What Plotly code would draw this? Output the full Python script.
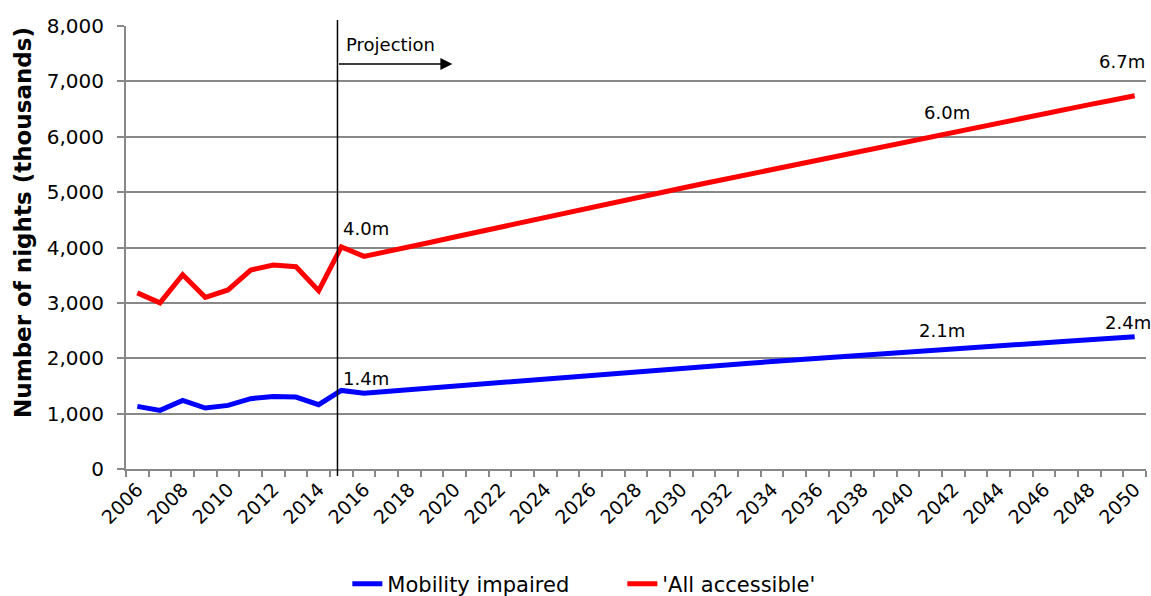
import plotly.graph_objects as go

years = list(range(2006, 2051))
mobility_impaired = [1131, 1059, 1239, 1101, 1149, 1270, 1311, 1300, 1162, 1419,
                     1370, 1403, 1436, 1469, 1502, 1535, 1568, 1601, 1634, 1667,
                     1700, 1730, 1760, 1790, 1820, 1850, 1880, 1910, 1940, 1970,
                     2000, 2030, 2060, 2090, 2120, 2147, 2174, 2201, 2228, 2255,
                     2282, 2309, 2336, 2363, 2390]
all_accessible = [3180, 3000, 3509, 3100, 3234, 3593, 3683, 3653, 3221, 4012,
                  3840, 3920, 4010, 4100, 4190, 4280, 4370, 4460, 4550, 4640,
                  4730, 4815, 4900, 4985, 5070, 5155, 5240, 5325, 5410, 5495,
                  5580, 5665, 5750, 5835, 5920, 6000, 6085, 6165, 6250, 6330,
                  6415, 6495, 6580, 6660, 6740]
tick_years = list(range(2006, 2051, 2))
y_ticks = list(range(0, 8001, 1000))

labels = [  # (text, x, y)
    ("4.0m", 2016.1, 4352),
    ("1.4m", 2016.1, 1643),
    ("6.0m", 2041.7, 6447),
    ("6.7m", 2049.45, 7350),
    ("2.1m", 2041.5, 2510),
    ("2.4m", 2049.7, 2637),
]

FONT = "DejaVu Sans"

fig = go.Figure()
fig.add_trace(go.Scatter(x=years, y=mobility_impaired, mode="lines",
                         name="Mobility impaired",
                         line=dict(color="#0000FF", width=5)))
fig.add_trace(go.Scatter(x=years, y=all_accessible, mode="lines",
                         name="'All accessible'",
                         line=dict(color="#FF0000", width=5)))

for t, x, y in labels:
    fig.add_annotation(x=x, y=y, text=t, showarrow=False,
                       font=dict(size=18, color="black", family=FONT))

# projection line
fig.add_shape(type="line", xref="x", yref="paper", x0=2014.83, x1=2014.83,
              y0=-0.016, y1=1.0135, line=dict(color="black", width=1.5))
fig.add_annotation(x=2019.9, y=7314, ax=2014.83, ay=7314,
                   xref="x", yref="y", axref="x", ayref="y",
                   showarrow=True, arrowhead=2, arrowsize=1.6, arrowwidth=1.5,
                   arrowcolor="black", text="")
fig.add_annotation(x=2015.1, y=7675, text="Projection", showarrow=False,
                   xanchor="left", yanchor="middle",
                   font=dict(size=18, color="black", family=FONT))

# y-axis title
fig.add_annotation(xref="paper", yref="paper", x=-0.101, y=0.5576,
                   text="<b>Number of nights (thousands)</b>", textangle=-90,
                   showarrow=False, xanchor="center", yanchor="middle",
                   font=dict(size=23, color="black", family=FONT))

fig.update_layout(
    width=1151, height=596,
    margin=dict(l=126, r=5, t=26, b=127, autoexpand=False),
    plot_bgcolor="white", paper_bgcolor="white",
    font=dict(family=FONT, color="black", size=19),
    showlegend=True,
    legend=dict(orientation="h", x=0.217, xanchor="left",
                y=-0.26, yanchor="middle", entrywidth=230,
                entrywidthmode="pixels",
                font=dict(size=21, family=FONT)),
    xaxis=dict(range=[2005.5, 2050.5], tickvals=tick_years,
               ticktext=[str(v) for v in tick_years], tickangle=-45,
               ticks="", showgrid=False, zeroline=False,
               showline=True, linecolor="#888888", linewidth=2,
               tickfont=dict(size=19, family=FONT),
               minor=dict(tickmode="linear", tick0=2005.5, dtick=1,
                          ticks="outside", ticklen=6, tickcolor="#888888",
                          tickwidth=2, showgrid=False)),
    yaxis=dict(range=[0, 8000], tickvals=y_ticks,
               ticktext=[f"{v:,}" for v in y_ticks],
               showgrid=True, gridcolor="#888888", gridwidth=2,
               zeroline=False, showline=True, linecolor="#888888", linewidth=2,
               ticks="outside", ticklen=7, tickcolor="#888888", tickwidth=2,
               ticklabelstandoff=9,
               tickfont=dict(size=20, family=FONT)),
)

fig.write_html("out.html")
